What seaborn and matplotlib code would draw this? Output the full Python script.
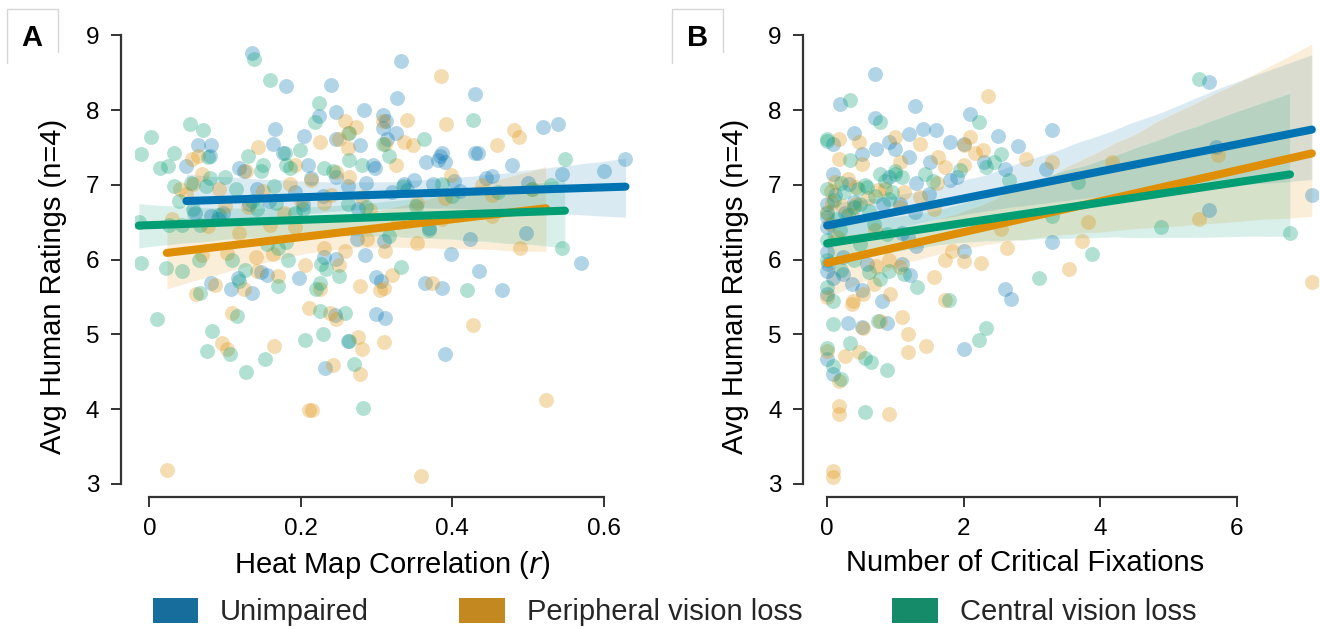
import numpy as np
import pandas as pd
import matplotlib
matplotlib.use("Agg")
import matplotlib.pyplot as plt
from matplotlib.patches import Patch
from matplotlib.lines import Line2D
import seaborn as sns

# ---------------- DATA ----------------
groups = ["Unimpaired", "Peripheral vision loss", "Central vision loss"]

# Panel A: Heat Map Correlation (r) vs Avg Human Ratings
a_unimp_x = [0.135, 0.181, 0.332, 0.240, 0.327, 0.430, 0.283, 0.247, 0.224, 0.309, 0.313, 0.309,
             0.326, 0.314, 0.520, 0.540, 0.166, 0.204, 0.064, 0.082, 0.163, 0.278, 0.246, 0.176,
             0.387, 0.430, 0.434, 0.384, 0.381, 0.391, 0.365, 0.479, 0.629, 0.049, 0.080, 0.210,
             0.296, 0.298, 0.118, 0.125, 0.445, 0.350, 0.336, 0.375, 0.247, 0.214, 0.286, 0.411,
             0.320, 0.192, 0.158, 0.131, 0.203, 0.275, 0.081, 0.097, 0.370, 0.497, 0.424, 0.274,
             0.310, 0.399, 0.285, 0.231, 0.247, 0.570, 0.435, 0.147, 0.155, 0.198, 0.300, 0.306,
             0.117, 0.081, 0.136, 0.364, 0.387, 0.466, 0.299, 0.311, 0.245, 0.262, 0.232, 0.390,
             0.108,
             0.060, 0.090, 0.142, 0.230, 0.262, 0.340, 0.402, 0.452, 0.500, 0.545, 0.600]
a_unimp_y = [8.76, 8.32, 8.65, 8.34, 8.16, 8.21, 8.00, 7.97, 7.92, 7.94, 7.86, 7.76,
             7.70, 7.62, 7.77, 7.81, 7.75, 7.66, 7.53, 7.53, 7.54, 7.53, 7.62, 7.43,
             7.43, 7.42, 7.42, 7.38, 7.33, 7.30, 7.30, 7.27, 7.34, 7.25, 7.38, 7.27,
             7.27, 7.22, 7.22, 7.19, 7.09, 7.06, 7.01, 7.01, 7.11, 7.09, 7.03, 6.92,
             6.90, 6.90, 6.79, 6.74, 6.74, 6.68, 6.58, 6.63, 6.42, 6.35, 6.27, 6.27,
             6.25, 6.08, 6.06, 6.04, 6.01, 5.95, 5.85, 5.83, 5.79, 5.75, 5.77, 5.72,
             5.75, 5.69, 5.56, 5.69, 5.62, 5.59, 5.27, 5.22, 5.26, 4.91, 4.55, 4.74,
             5.61,
             6.62, 6.55, 6.95, 6.85, 6.98, 6.93, 7.05, 7.12, 7.02, 7.15, 7.18]

a_periph_x = [0.385, 0.340, 0.392, 0.259, 0.273, 0.262, 0.309, 0.225, 0.250, 0.262, 0.336, 0.348,
              0.459, 0.482, 0.488, 0.144, 0.056, 0.064, 0.311, 0.326, 0.127, 0.069, 0.192, 0.214,
              0.186, 0.247, 0.264, 0.399, 0.058, 0.092, 0.353, 0.390, 0.281, 0.453, 0.452, 0.231,
              0.159, 0.192, 0.387, 0.328, 0.070, 0.141, 0.163, 0.103, 0.231, 0.259, 0.288, 0.311,
              0.353, 0.489, 0.206, 0.250, 0.320, 0.142, 0.087, 0.062, 0.125, 0.170, 0.278, 0.310,
              0.305, 0.374, 0.225, 0.109, 0.211, 0.239, 0.246, 0.427, 0.096, 0.103, 0.164, 0.275,
              0.281, 0.310, 0.242, 0.278, 0.211, 0.215, 0.524, 0.023, 0.359,
              0.030, 0.048, 0.078, 0.100, 0.118, 0.150, 0.178, 0.200, 0.240, 0.292, 0.040, 0.130,
              0.440, 0.505]
a_periph_y = [8.45, 7.87, 7.81, 7.86, 7.78, 7.70, 7.86, 7.57, 7.62, 7.49, 7.57, 7.53,
              7.53, 7.73, 7.64, 7.50, 7.35, 7.38, 7.54, 7.27, 7.19, 7.14, 7.27, 7.06,
              7.01, 7.17, 7.11, 7.13, 7.01, 6.95, 6.76, 6.82, 6.84, 6.87, 6.59, 6.76,
              6.47, 6.44, 6.55, 6.50, 6.06, 6.04, 6.07, 6.09, 6.15, 6.12, 6.28, 6.12,
              6.22, 6.15, 5.93, 5.93, 5.80, 5.85, 5.66, 5.54, 5.61, 5.78, 5.65, 5.62,
              5.60, 5.69, 5.61, 5.28, 5.35, 5.28, 5.21, 5.12, 4.88, 4.81, 4.85, 4.96,
              4.81, 4.90, 4.59, 4.47, 3.99, 3.99, 4.12, 3.19, 3.11,
              6.55, 6.88, 6.45, 6.72, 6.35, 6.92, 6.62, 6.78, 6.86, 6.66, 6.95, 6.70,
              7.00, 6.95]

a_central_x = [0.138, 0.160, 0.224, 0.219, 0.427, 0.054, 0.071, 0.002, 0.264, 0.363, -0.011, 0.033,
               0.078, 0.130, 0.179, 0.014, 0.025, 0.549, 0.317, 0.100, 0.032, 0.075, 0.147, 0.181,
               0.186, 0.231, 0.264, 0.281, 0.114, 0.164, 0.387, 0.039, 0.058, 0.136, 0.167, 0.203,
               0.263, -0.014, 0.026, 0.043, 0.067, 0.370, 0.545, 0.156, 0.170, 0.181, 0.316, 0.066,
               0.109, -0.011, 0.022, 0.043, 0.126, 0.227, 0.233, 0.250, 0.333, 0.183, 0.067, 0.118,
               0.170, 0.220, 0.225, 0.419, 0.010, 0.116, 0.225, 0.259, 0.083, 0.206, 0.229, 0.076,
               0.107, 0.153, 0.128, 0.270, 0.282, 0.264,
               0.055, 0.080, 0.150, 0.199, 0.243, 0.309, 0.092, 0.142, 0.192, 0.286, 0.335,
               0.352, 0.400, 0.460, 0.505, 0.530]
a_central_y = [8.68, 8.40, 8.09, 7.84, 7.87, 7.81, 7.74, 7.64, 7.70, 7.62, 7.41, 7.42,
               7.37, 7.38, 7.43, 7.22, 7.25, 7.35, 7.38, 7.11, 6.99, 6.98, 7.19, 7.27,
               7.22, 7.22, 7.33, 7.27, 6.95, 6.98, 7.01, 6.79, 6.68, 6.79, 6.76, 6.68,
               6.74, 6.50, 6.47, 6.47, 6.47, 6.40, 6.16, 6.21, 6.15, 6.23, 6.31, 5.99,
               5.99, 5.95, 5.89, 5.85, 5.86, 5.94, 5.87, 5.78, 5.90, 5.99, 5.56, 5.71,
               5.65, 5.61, 5.69, 5.60, 5.21, 5.24, 5.31, 5.28, 5.04, 4.92, 5.00, 4.78,
               4.74, 4.67, 4.50, 4.61, 4.02, 4.91,
               7.02, 7.09, 7.26, 7.46, 7.19, 7.55, 6.60, 6.68, 6.62, 6.70, 6.99,
               6.72, 6.85, 6.90, 6.95, 7.00]

# Panel B: Number of Critical Fixations vs Avg Human Ratings
b_unimp_x = [0.70, 0.19, 1.29, 2.09, 0.70, 0.40, 1.20, 1.40, 1.60, 1.80, 2.00, 2.50,
             2.80, 3.30, 0.09, 0.51, 0.71, 1.00, 0.91, 1.20, 1.50, 2.30, 2.60, 3.20,
             1.80, 1.90, 0.08, 0.32, 0.90, 1.30, 1.49, 0.12, 0.00, 0.39, 0.82, 1.07,
             0.00, 0.26, 1.29, 0.00, 1.09, 1.30, 1.19, 2.00, 3.30, 0.00, 0.02, 0.24,
             0.58, 1.09, 1.22, 0.09, 0.24, 0.51, 0.36, 0.80, 0.00, 2.61, 2.69, 0.30,
             0.51, 0.88, 2.00, 0.00, 0.09, 0.00, 5.60, 7.10, 5.60, 5.70]
b_unimp_y = [8.48, 8.08, 8.05, 7.95, 7.90, 7.69, 7.68, 7.75, 7.73, 7.57, 7.55, 7.65,
             7.52, 7.73, 7.55, 7.41, 7.48, 7.48, 7.57, 7.37, 7.31, 7.31, 7.21, 7.21,
             7.06, 7.10, 7.14, 7.01, 7.10, 7.02, 6.88, 6.86, 6.75, 6.77, 6.75, 6.75,
             6.57, 6.62, 6.64, 6.44, 6.35, 6.18, 6.30, 6.12, 6.23, 6.10, 5.94, 6.03,
             5.94, 5.94, 5.79, 5.76, 5.81, 5.59, 5.68, 5.45, 5.85, 5.61, 5.48, 5.15,
             5.10, 5.15, 4.80, 4.67, 4.47, 5.54, 8.38, 6.86, 6.66, 7.50]

b_periph_x = [2.36, 0.18, 0.46, 0.99, 1.36, 2.09, 2.00, 2.17, 2.28, 2.91, 0.18, 0.51,
              1.07, 1.63, 1.73, 2.00, 3.29, 0.12, 0.43, 0.75, 1.12, 1.61, 0.07, 0.43,
              1.07, 1.36, 1.56, 0.00, 0.04, 0.70, 2.55, 2.64, 1.83, 1.73, 2.00, 2.26,
              0.91, 0.72, 1.07, 1.56, 0.68, 0.92, 0.53, 0.00, 0.38, 1.72, 0.77, 1.09,
              0.53, 1.18, 1.45, 1.18, 0.26, 0.46, 0.00, 0.18, 0.18, 0.18, 0.91, 0.09,
              0.09, 0.36, 3.82, 3.73, 3.55, 4.18, 5.45, 7.10, 5.73,
              0.05, 0.22, 0.35, 0.60, 0.85, 0.30, 0.14]
b_periph_y = [8.19, 7.62, 7.57, 7.64, 7.55, 7.64, 7.53, 7.42, 7.47, 7.35, 7.35, 7.28,
              7.31, 7.37, 7.24, 7.26, 7.31, 7.04, 6.97, 6.93, 6.91, 7.02, 6.77, 6.75,
              6.70, 6.84, 6.68, 6.64, 6.48, 6.39, 6.41, 6.16, 6.12, 6.00, 5.98, 5.96,
              6.00, 5.92, 5.90, 5.77, 5.67, 5.54, 5.54, 5.50, 5.45, 5.46, 5.18, 5.23,
              5.09, 5.00, 4.84, 4.77, 4.71, 4.76, 4.78, 4.38, 4.04, 3.93, 3.93, 3.17,
              3.09, 5.41, 6.50, 6.25, 5.87, 7.31, 6.55, 5.70, 7.40,
              6.92, 6.72, 6.60, 6.82, 6.95, 7.08, 6.30]

b_central_x = [0.33, 0.77, 2.23, 0.00, 0.00, 0.34, 0.77, 0.99, 1.44, 2.33, 2.55, 2.67,
               0.00, 0.20, 0.58, 0.90, 0.48, 0.00, 0.19, 0.68, 0.48, 0.87, 0.00, 0.00,
               0.39, 0.61, 0.78, 0.90, 1.12, 1.31, 0.00, 0.21, 0.09, 0.09, 0.75, 1.78,
               2.33, 2.23, 0.33, 0.56, 0.65, 0.88, 0.00, 0.09, 0.21, 0.56, 3.10, 5.44,
               3.67, 3.30, 3.88, 4.89, 6.78,
               0.10, 0.25, 0.40, 0.55, 0.70, 0.85, 1.00, 0.15, 0.45, 0.62, 0.95, 1.10, 0.30,
               1.55, 1.95, 2.45]
b_central_y = [8.14, 7.84, 7.84, 7.62, 7.58, 7.33, 7.15, 7.19, 7.14, 7.24, 7.41, 7.07,
               6.95, 7.02, 6.97, 6.81, 6.75, 6.63, 6.39, 6.48, 6.21, 6.34, 6.26, 5.99,
               5.99, 5.83, 5.74, 5.85, 5.81, 5.64, 5.63, 5.86, 5.45, 5.14, 5.18, 5.46,
               5.09, 4.93, 4.88, 4.68, 4.63, 4.53, 4.82, 4.58, 4.40, 3.96, 5.75, 8.41,
               7.04, 6.58, 6.07, 6.43, 6.35,
               6.80, 6.90, 6.70, 7.00, 6.85, 7.05, 7.15, 6.55, 6.95, 6.65, 6.90, 7.10, 6.60,
               7.05, 7.20, 7.30]

panel_a = [(a_unimp_x, a_unimp_y), (a_periph_x, a_periph_y), (a_central_x, a_central_y)]
panel_b = [(b_unimp_x, b_unimp_y), (b_periph_x, b_periph_y), (b_central_x, b_central_y)]

a_xticks = [0, 0.2, 0.4, 0.6]
a_xticklabels = ["0", "0.2", "0.4", "0.6"]
b_xticks = [0, 2, 4, 6]
b_xticklabels = ["0", "2", "4", "6"]
yticks = [3, 4, 5, 6, 7, 8, 9]

# ---------------- STYLE ----------------
sns.set_theme(style="ticks")
plt.rcParams["font.family"] = ["Liberation Sans", "DejaVu Sans"]
palette = sns.color_palette("colorblind", 3)
spine_col = "#333333"

fig = plt.figure(figsize=(13.2, 6.29), dpi=100)
W, H = 1320, 629


def px_rect(x0, y0, x1, y1):
    return [x0 / W, 1 - y1 / H, (x1 - x0) / W, (y1 - y0) / H]


ax_a = fig.add_axes(px_rect(134.7, 35.3, 633.8, 484))
ax_b = fig.add_axes(px_rect(817, 35.3, 1318, 484))

configs = [
    (ax_a, panel_a, (-0.0194, 0.64), a_xticks, a_xticklabels, (0, 0.6),
     "Heat Map Correlation ($\\it{r}$)", 0.516),
    (ax_b, panel_b, (-0.148, 7.19), b_xticks, b_xticklabels, (0, 6),
     "Number of Critical Fixations", 0.415),
]

for ax, data, xlim, xt, xtl, xb, xlabel, xlab_x in configs:
    # scatter points first
    for (xs, ys), c in zip(data, palette):
        df = pd.DataFrame({"x": xs, "y": ys})
        sns.scatterplot(data=df, x="x", y="y", ax=ax, color=c, s=115,
                        alpha=0.3, linewidth=0, zorder=2, legend=False)
    # regression lines + CI bands
    for (xs, ys), c in zip(data, palette):
        df = pd.DataFrame({"x": xs, "y": ys})
        sns.regplot(data=df, x="x", y="y", ax=ax, scatter=False, color=c,
                    ci=95, seed=0,
                    line_kws={"lw": 5.8, "solid_capstyle": "round", "zorder": 4})
    ax.set_xlim(*xlim)
    ax.set_ylim(3, 9)
    ax.set_xticks(xt)
    ax.set_xticklabels(xtl)
    ax.set_yticks(yticks)
    ax.set_yticklabels([str(v) for v in yticks])
    for s in ["top", "right"]:
        ax.spines[s].set_visible(False)
    ax.spines["left"].set_position(("outward", 10))
    ax.spines["bottom"].set_position(("outward", 9))
    ax.spines["left"].set_bounds(3, 9)
    ax.spines["bottom"].set_bounds(*xb)
    for s in ["left", "bottom"]:
        ax.spines[s].set_color(spine_col)
        ax.spines[s].set_linewidth(1.6)
    ax.tick_params(axis="both", labelsize=17.5, length=7.5, width=1.4,
                   color=spine_col, pad=8, labelcolor="black")
    ax.set_xlabel(xlabel, fontsize=21, color="black")
    ax.set_ylabel("Avg Human Ratings (n=4)", fontsize=21, color="black")
    ax.xaxis.set_label_coords(xlab_x, -0.145)
    ax.yaxis.set_label_coords(-0.136, 0.441)
    ax.set_facecolor("white")

# panel letters with light boxes
for (bx0, bx1, tx), letter in zip([(7, 58, 32), (672, 723, 698)], ["A", "B"]):
    y_top, y_bot = 9, 63
    xs = [bx0 / W, bx0 / W, bx1 / W, bx1 / W]
    ys = [1 - y_bot / H, 1 - y_top / H, 1 - y_top / H, 1 - 52 / H]
    fig.add_artist(Line2D(xs, ys, color="#d6d6d6", lw=1.0))
    fig.text(tx / W, 1 - 38 / H, letter, fontsize=21, fontweight="bold",
             ha="center", va="center", color="black")

# legend
leg_colors = [sns.desaturate(c, 0.75) for c in palette]
handles = [Patch(facecolor=c, edgecolor="none", label=g) for c, g in zip(leg_colors, groups)]
fig.legend(handles=handles, loc="center", bbox_to_anchor=(0.511, 0.027), ncol=3,
           frameon=False, fontsize=21, handlelength=1.55, handleheight=0.95,
           handletextpad=0.75, columnspacing=3.1, borderpad=0)

fig.savefig("out.png", dpi=100, facecolor="white")
